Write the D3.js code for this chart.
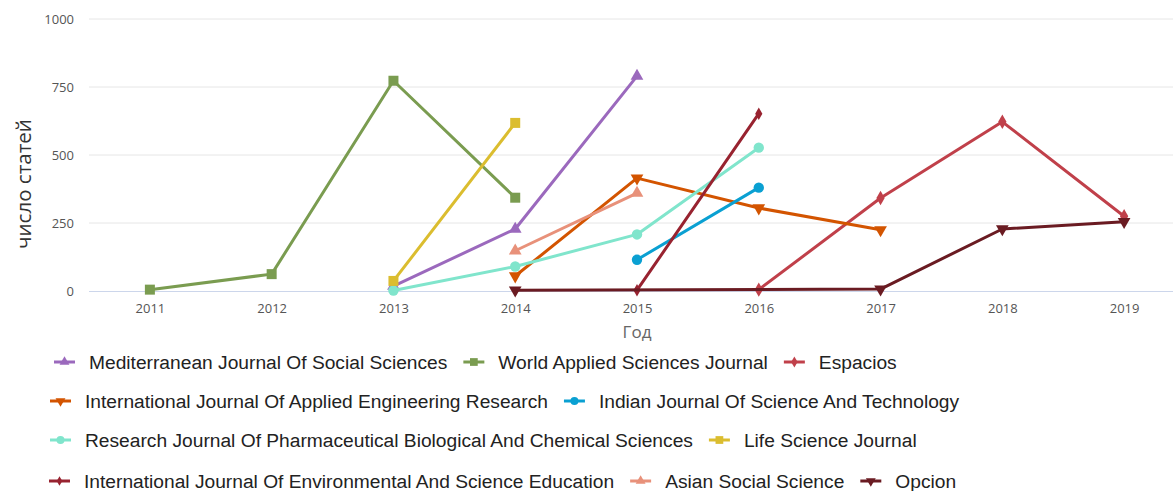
<!DOCTYPE html>
<html><head><meta charset="utf-8">
<script src="https://cdn.jsdelivr.net/npm/d3@7"></script>
<style>body{margin:0;background:#fff}svg{display:block}</style>
</head><body>
<svg id="c" width="1173" height="491"></svg>
<script>
const years = [2011,2012,2013,2014,2015,2016,2017,2018,2019];
const yTicks = [0,250,500,750,1000];
const seriesNames = [
  "Mediterranean Journal Of Social Sciences",
  "World Applied Sciences Journal",
  "Espacios",
  "International Journal Of Applied Engineering Research",
  "Indian Journal Of Science And Technology",
  "Research Journal Of Pharmaceutical Biological And Chemical Sciences",
  "Life Science Journal",
  "International Journal Of Environmental And Science Education",
  "Asian Social Science",
  "Opcion"
];
const medJSS   = [null,null,18,228,790,null,null,null,null];
const worldAS  = [5,62,773,343,null,null,null,null,null];
const espacios = [null,null,null,null,null,5,342,622,275];
const ijaer    = [null,null,null,55,415,305,225,null,null];
const indianJST= [null,null,null,null,115,380,null,null,null];
const rjpbcs   = [null,null,2,90,208,527,null,null,null];
const lifeSJ   = [null,null,37,618,null,null,null,null,null];
const ijese    = [null,null,null,null,3,652,null,null,null];
const asianSS  = [null,null,null,148,360,null,null,null,null];
const opcion   = [null,null,null,3,null,null,7,228,255];
const seriesValues = [medJSS,worldAS,espacios,ijaer,indianJST,rjpbcs,lifeSJ,ijese,asianSS,opcion];
const colors = ["#9b69bd","#7a9c50","#c0404a","#d35400","#0aa0d2","#80e5cc","#dbbd2f","#982330","#e8917a","#6a1b22"];
const symbols = ["triangleUp","square","diamond","triangleDown","circle","circle","square","diamondSmall","triangleUp","triangleDown"];
const legendRows = [[0,1,2],[3,4],[5,6],[7,8,9]];

const svg = d3.select("#c");
const x = d3.scaleLinear().domain([2010.5,2019.5]).range([89,1185]);
const y = d3.scaleLinear().domain([0,1000]).range([291,19]);

// gridlines
svg.append("g").selectAll("line").data(yTicks.filter(d=>d>0)).join("line")
  .attr("x1",89).attr("x2",1173).attr("y1",d=>y(d)).attr("y2",d=>y(d))
  .attr("stroke","#e6e6e6").attr("stroke-width",1);
// y axis labels
const yAxis = d3.axisLeft(y).tickValues(yTicks).tickFormat(d3.format("d")).tickSize(0).tickPadding(0);
const gy = svg.append("g").attr("transform","translate(74,0)").call(yAxis);
gy.select(".domain").remove();
gy.selectAll("text").attr("font-family","Open Sans").attr("font-size",13).attr("fill","#555");
// x axis
const xAxis = d3.axisBottom(x).tickValues(years).tickFormat(d3.format("d")).tickSize(0).tickPadding(13);
const gx = svg.append("g").attr("transform","translate(0,291)").call(xAxis);
gx.select(".domain").remove();
gx.selectAll("text").attr("font-family","Open Sans").attr("font-size",13).attr("fill","#555");
svg.append("line").attr("x1",89).attr("x2",1173).attr("y1",291.5).attr("y2",291.5).attr("stroke","#ccd6eb").attr("stroke-width",1);

svg.append("text").attr("x",637).attr("y",338).attr("text-anchor","middle")
  .attr("font-family","Open Sans").attr("font-size",17).attr("fill","#666").text("Год");
svg.append("text").attr("transform","translate(31,184) rotate(-90)").attr("text-anchor","middle")
  .attr("font-family","Open Sans").attr("font-size",20.5).attr("fill","#333").text("число статей");

function symPath(s,k){
  k = k||1;
  switch(s){
    case "triangleUp": return d3.symbol(d3.symbolTriangle,70*k)();
    case "triangleDown": return d3.symbol(d3.symbolTriangle,70*k)();
    case "square": return d3.symbol(d3.symbolSquare,100*k)();
    case "diamond": return d3.symbol(d3.symbolDiamond,60*k)();
    case "diamondSmall": return d3.symbol(d3.symbolDiamond,45*k)();
    case "circle": return d3.symbol(d3.symbolCircle,85*k)();
  }
}
function symRot(s){ return s==="triangleDown" ? " rotate(180)" : ""; }

const line = d3.line().x(d=>x(d.year)).y(d=>y(d.v));
seriesValues.forEach((vals,i)=>{
  const pts = years.map((yr,j)=>({year:yr,v:vals[j]})).filter(d=>d.v!=null);
  const g = svg.append("g");
  g.append("path").datum(pts).attr("d",line).attr("fill","none")
    .attr("stroke",colors[i]).attr("stroke-width",3).attr("stroke-linejoin","round").attr("stroke-linecap","round");
  g.selectAll("path.m").data(pts).join("path").attr("class","m")
    .attr("d",symPath(symbols[i]))
    .attr("transform",d=>`translate(${x(d.year)},${y(d.v)})${symRot(symbols[i])}`)
    .attr("fill",colors[i]);
});

// legend
const rowY = [362,401,440,481];
const rowX = [54,50,50,49];
const leg = svg.append("g");
legendRows.forEach((row,r)=>{
  let cx = rowX[r];
  row.forEach(i=>{
    const g = leg.append("g").attr("transform",`translate(${cx},${rowY[r]})`);
    g.append("line").attr("x1",0).attr("x2",21).attr("y1",0).attr("y2",0).attr("stroke",colors[i]).attr("stroke-width",3);
    g.append("path").attr("d",symPath(symbols[i],0.6)).attr("transform",`translate(10.5,0)${symRot(symbols[i])}`).attr("fill",colors[i]);
    const t = g.append("text").attr("x",35).attr("y",0).attr("dy","0.35em")
      .attr("font-family","Liberation Sans, Arial").attr("font-size",19.2).attr("fill","#222").text(seriesNames[i]);
    cx += 35 + t.node().getComputedTextLength() + 16;
  });
});
</script>
</body></html>
